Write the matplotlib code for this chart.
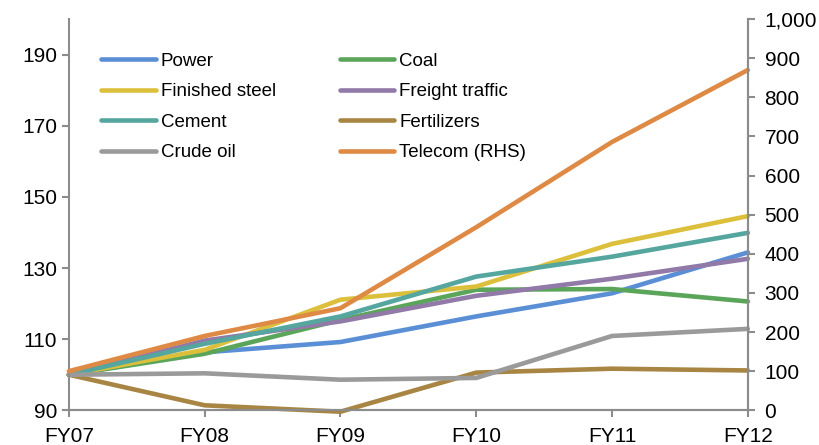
import matplotlib
matplotlib.use('Agg')
import matplotlib.pyplot as plt
from matplotlib.ticker import FuncFormatter

plt.rcParams['font.family'] = ['Liberation Sans', 'DejaVu Sans']

years = ['FY07', 'FY08', 'FY09', 'FY10', 'FY11', 'FY12']

# left axis series (index, FY07 = 100)
power = [100, 106.3, 109.2, 116.4, 122.9, 134.4]
coal = [100, 105.9, 115.4, 123.9, 124.1, 120.6]
finished_steel = [100, 107.0, 121.1, 124.8, 136.8, 144.6]
freight_traffic = [100, 109.6, 115.0, 122.2, 127.0, 132.6]
cement = [100, 108.7, 116.4, 127.6, 133.2, 139.9]
fertilizers = [100, 91.4, 89.6, 100.6, 101.7, 101.2]
crude_oil = [100, 100.4, 98.6, 99.1, 110.9, 112.9]

# right axis series
telecom = [100, 190, 261, 468, 686, 870]

left_series = [
    ('Power', power, '#5b8fd5'),
    ('Coal', coal, '#5ba55b'),
    ('Finished steel', finished_steel, '#dcc03c'),
    ('Freight traffic', freight_traffic, '#9179a8'),
    ('Cement', cement, '#56a6a0'),
    ('Fertilizers', fertilizers, '#a88542'),
    ('Crude oil', crude_oil, '#9a9a9a'),
]
telecom_color = '#de8a45'
axis_color = '#8c8c8c'

fig = plt.figure(figsize=(8.2, 4.45), dpi=100)
ax = fig.add_axes([0.084, 0.078, 0.828, 0.879])
ax2 = ax.twinx()

x = list(range(len(years)))
handles = {}
for name, vals, col in left_series:
    ln, = ax.plot(x, vals, color=col, lw=3.3, solid_capstyle='round', label=name, clip_on=False)
    handles[name] = ln
ln, = ax2.plot(x, telecom, color=telecom_color, lw=3.3, solid_capstyle='round', label='Telecom (RHS)', clip_on=False)
handles['Telecom (RHS)'] = ln

ax.set_xlim(0, len(years) - 1)
ax.set_ylim(90, 200)
ax.set_yticks(range(90, 200, 20))
ax2.set_ylim(0, 1000)
ax2.set_yticks(range(0, 1001, 100))
ax2.yaxis.set_major_formatter(FuncFormatter(lambda v, p: '{:,.0f}'.format(v)))
ax.set_xticks(x)
ax.set_xticklabels(years)

for a in (ax, ax2):
    a.spines['top'].set_visible(False)
    for s in ['left', 'right', 'bottom']:
        a.spines[s].set_color(axis_color)
        a.spines[s].set_linewidth(1.5)
    a.tick_params(colors=axis_color, labelcolor='black', labelsize=15, width=1.5, length=5)
ax.tick_params(axis='x', pad=7)
ax2.tick_params(axis='y', pad=7)
ax2.spines['left'].set_visible(False)

order = ['Power', 'Finished steel', 'Cement', 'Crude oil',
         'Coal', 'Freight traffic', 'Fertilizers', 'Telecom (RHS)']
leg = ax2.legend([handles[k] for k in order], order, ncol=2, frameon=False,
                 fontsize=13.5, loc='upper left', bbox_to_anchor=(0.023, 0.957),
                 handlelength=2.9, handletextpad=0.27, columnspacing=3.4,
                 labelspacing=0.71)

fig.savefig('out.png', dpi=100)
